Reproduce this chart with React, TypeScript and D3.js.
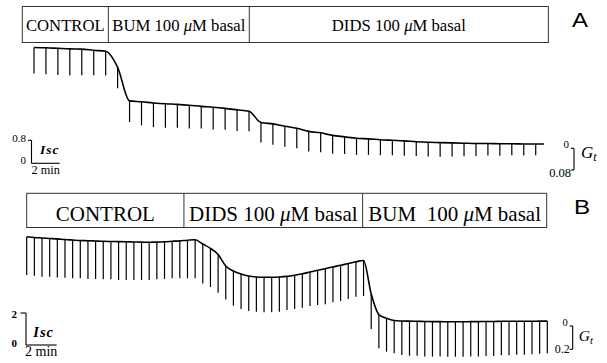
import React, { useEffect, useRef } from 'react'
import * as d3 from 'd3'

// Panel A: one Gt pulse every 0.85 min; Isc at the top of each pulse, Gt = pulse deflection
const minPerPulseA = 0.85
const iscA = [
  4.03, 4.02, 4.0, 3.98, 3.97, 3.93, 3.9, 3.34, 2.17, 2.14, 2.1, 2.07, 2.05, 2.02, 1.98,
  1.95, 1.91, 1.86, 1.81, 1.42, 1.37, 1.29, 1.22, 1.11, 1.06, 0.97, 0.92, 0.87, 0.85,
  0.82, 0.8, 0.78, 0.75, 0.73, 0.72, 0.71, 0.7, 0.69, 0.69, 0.68, 0.68, 0.67, 0.67,
]
const gtA = [
  0.096, 0.098, 0.098, 0.098, 0.096, 0.092, 0.09, 0.077, 0.078, 0.087, 0.089, 0.088,
  0.086, 0.086, 0.082, 0.082, 0.079, 0.078, 0.074, 0.074, 0.077, 0.076, 0.074, 0.074,
  0.072, 0.068, 0.063, 0.061, 0.059, 0.057, 0.055, 0.055, 0.053, 0.052, 0.052, 0.05,
  0.048, 0.046, 0.044, 0.044, 0.042, 0.042, 0.041,
]
const phasesA = ['CONTROL', 'BUM 100 μM basal', 'DIDS 100 μM basal']
const phaseBoundsA = [-0.83, 5.29, 15.32, 36.6] // min
const traceEndA = 36.29 // min

// Panel B: one Gt pulse every 0.5 min
const minPerPulseB = 0.5
const iscB = [
  6.77, 6.72, 6.69, 6.66, 6.63, 6.59, 6.56, 6.53, 6.52, 6.5, 6.48, 6.47, 6.46, 6.45, 6.44,
  6.43, 6.42, 6.43, 6.45, 6.48, 6.51, 6.55, 6.58, 6.31, 6.04, 5.66, 4.94, 4.63, 4.44,
  4.31, 4.25, 4.23, 4.23, 4.25, 4.29, 4.36, 4.45, 4.56, 4.67, 4.77, 4.88, 4.98, 5.09,
  5.2, 5.28, 3.19, 1.91, 1.67, 1.53, 1.5, 1.49, 1.48, 1.47, 1.46, 1.46, 1.45, 1.45,
  1.45, 1.46, 1.46, 1.47, 1.47, 1.48, 1.48, 1.48, 1.48, 1.48, 1.49, 1.49,
]
const gtB = [
  0.329, 0.328, 0.332, 0.328, 0.332, 0.328, 0.329, 0.324, 0.329, 0.326, 0.326, 0.324,
  0.329, 0.328, 0.326, 0.324, 0.324, 0.318, 0.319, 0.318, 0.322, 0.327, 0.331, 0.339,
  0.332, 0.328, 0.288, 0.298, 0.3, 0.3, 0.298, 0.3, 0.3, 0.298, 0.289, 0.289, 0.291,
  0.292, 0.298, 0.306, 0.303, 0.306, 0.305, 0.3, 0.305, 0.3, 0.29, 0.287, 0.282, 0.292,
  0.296, 0.296, 0.3, 0.3, 0.3, 0.3, 0.3, 0.3, 0.3, 0.3, 0.296, 0.296, 0.292, 0.292,
  0.288, 0.288, 0.283, 0.279, 0.275,
]
const phasesB = ['CONTROL', 'DIDS 100 μM basal', 'BUM\u00a0\u00a0100 μM basal']
const phaseBoundsB = [0, 10.27, 21.94, 33.96]

const W = 607
const H = 363
const serif = "'Liberation Serif', 'Times New Roman', serif"
const sans = "'Liberation Sans', Arial, sans-serif"

const App = () => {
  const ref = useRef<SVGSVGElement>(null)

  useEffect(() => {
    const svg = d3.select(ref.current)
    svg.selectAll('*').remove()

    const drawPanel = (o: any) => {
      const g = svg.append('g')
      const n = o.isc.length
      const x = d3.scaleLinear().domain([0, (n - 1) * o.minPerPulse]).range(o.xRange)
      const y = d3.scaleLinear().domain([0, o.iscCal]).range(o.iscRange)
      const gt = d3.scaleLinear().domain([0, o.gtCal]).range([0, o.gtPx])
      const pts: [number, number][] = o.isc.map((v: number, i: number) => [i * o.minPerPulse, v])
      if (o.traceEnd) pts.push([o.traceEnd, o.isc[n - 1]])

      // treatment boxes
      g.append('rect')
        .attr('x', x(o.bounds[0])).attr('y', o.box[0])
        .attr('width', x(o.bounds[o.bounds.length - 1]) - x(o.bounds[0]))
        .attr('height', o.box[1] - o.box[0])
        .attr('fill', 'none').attr('stroke', '#333').attr('stroke-width', 1)
      o.bounds.slice(1, -1).forEach((b: number) => {
        g.append('line')
          .attr('x1', x(b)).attr('x2', x(b)).attr('y1', o.box[0]).attr('y2', o.box[1])
          .attr('stroke', '#333').attr('stroke-width', 1)
      })
      o.phases.forEach((p: string, i: number) => {
        const [pre, post] = p.split('μ')
        const t = g.append('text')
          .attr('x', (x(o.bounds[i]) + x(o.bounds[i + 1])) / 2)
          .attr('y', o.boxBase)
          .attr('text-anchor', 'middle')
          .style('font-family', serif).style('font-size', `${o.boxFont}px`)
        t.append('tspan').text(pre)
        if (post !== undefined) {
          t.append('tspan').style('font-style', 'italic').text('μ')
          t.append('tspan').text(post)
        }
      })

      // trace + conductance pulses
      g.append('path')
        .datum(pts)
        .attr('d', d3.line().x((d) => x(d[0])).y((d) => y(d[1])).curve(d3.curveMonotoneX))
        .attr('fill', 'none').attr('stroke', '#000').attr('stroke-width', 1.6)
      g.selectAll('line.pulse')
        .data(o.isc)
        .enter()
        .append('line')
        .attr('class', 'pulse')
        .attr('x1', (_d: any, i: number) => x(i * o.minPerPulse))
        .attr('x2', (_d: any, i: number) => x(i * o.minPerPulse))
        .attr('y1', (d: any) => y(d))
        .attr('y2', (d: any, i: number) => y(d) + gt(o.gt[i]))
        .attr('stroke', '#000').attr('stroke-width', 1.2)

      const txt = (tx: number, ty: number, s: string, size: number, extra: any = {}) =>
        g.append('text').attr('x', tx).attr('y', ty).text(s)
          .attr('text-anchor', extra.anchor || 'start')
          .style('font-family', extra.family || serif).style('font-size', `${size}px`)
          .style('font-weight', extra.weight || 'normal').style('font-style', extra.style || 'normal')
          .style('letter-spacing', extra.spacing || 'normal')

      // Isc / time calibration
      const c = o.iscBar
      const bar = g.append('g').attr('stroke', '#000').attr('stroke-width', 1.1)
      bar.append('line').attr('x1', c.x).attr('x2', c.x).attr('y1', y(o.iscCal)).attr('y2', y(0))
      bar.append('line').attr('x1', c.x - c.tick).attr('x2', c.x).attr('y1', y(o.iscCal)).attr('y2', y(o.iscCal))
      bar.append('line').attr('x1', c.x).attr('x2', c.x + x(2) - x(0)).attr('y1', y(0)).attr('y2', y(0))
      txt(c.calX, y(o.iscCal) + c.calDy, String(o.iscCal), c.numSize, { anchor: 'end', weight: c.numWeight })
      txt(c.calX, y(0) + c.zeroDy, '0', c.numSize, { anchor: 'end', weight: c.numWeight })
      txt(c.labelX, c.labelY, 'Isc', c.labelSize, { weight: 'bold', style: 'italic', spacing: '1px' })
      txt(c.minX, c.minY, '2 min', c.minSize)

      // Gt calibration
      const k = o.gtBar
      const gb = g.append('g').attr('stroke', '#000').attr('stroke-width', 1.1)
      gb.append('line').attr('x1', k.x).attr('x2', k.x).attr('y1', k.top).attr('y2', k.top + gt(o.gtCal))
      gb.append('line').attr('x1', k.x - 3).attr('x2', k.x).attr('y1', k.top).attr('y2', k.top)
      gb.append('line').attr('x1', k.x - 3).attr('x2', k.x).attr('y1', k.top + gt(o.gtCal)).attr('y2', k.top + gt(o.gtCal))
      txt(k.x - 5, k.top + k.zeroDy, '0', k.zeroSize, { anchor: 'end' })
      txt(k.x - 3, k.top + gt(o.gtCal) + k.calDy, o.gtCalLabel, k.numSize, { anchor: 'end' })
      const gtLabel = txt(k.x + k.gdx, k.gy, 'G', k.gSize, { style: 'italic' })
      gtLabel.append('tspan').attr('dy', 3).style('font-size', `${k.gSize * 0.7}px`).text('t')

      // panel letter
      g.append('text')
        .attr('transform', `translate(${o.tagPos[0]},${o.tagPos[1]}) scale(${o.tagStretch},1)`)
        .text(o.tag)
        .style('font-family', sans).style('font-size', `${o.tagSize}px`)
    }

    drawPanel({
      tag: 'A', isc: iscA, gt: gtA, minPerPulse: minPerPulseA, phases: phasesA,
      bounds: phaseBoundsA, traceEnd: traceEndA,
      xRange: [34, 535.7], iscCal: 0.8, iscRange: [163.3, 140.3], gtCal: 0.08, gtPx: 21.7,
      gtCalLabel: '0.08', box: [6.5, 42.5], boxFont: 16.7, boxBase: 31,
      tagPos: [572, 27], tagSize: 20, tagStretch: 1.2,
      iscBar: { x: 31.5, tick: 3.5, calX: 26, calDy: 1.5, zeroDy: 0.5, numSize: 11, numWeight: 'normal',
        labelX: 40, labelY: 153.5, labelSize: 13.5, minX: 31.5, minY: 173.5, minSize: 12.3 },
      gtBar: { x: 574, top: 148.3, zeroDy: 0, calDy: 7, numSize: 12.5, zeroSize: 11, gy: 157.5, gSize: 17, gdx: 7 },
    })
    drawPanel({
      tag: 'B', isc: iscB, gt: gtB, minPerPulse: minPerPulseB, phases: phasesB,
      bounds: phaseBoundsB, traceEnd: null,
      xRange: [26.7, 547.3], iscCal: 2, iscRange: [345, 313], gtCal: 0.2, gtPx: 23.3,
      gtCalLabel: '0.2', box: [193.3, 227.5], boxFont: 21, boxBase: 220.5,
      tagPos: [574, 213.5], tagSize: 21, tagStretch: 1.15,
      iscBar: { x: 26, tick: 5.5, calX: 17, calDy: 5, zeroDy: 2, numSize: 11, numWeight: 'bold',
        labelX: 33.3, labelY: 337, labelSize: 14.5, minX: 25, minY: 355.5, minSize: 14 },
      gtBar: { x: 572.7, top: 326, zeroDy: 0, calDy: 4, numSize: 12, zeroSize: 10.5, gy: 340.5, gSize: 15.5, gdx: 6 },
    })
  }, [])

  return (
    <svg
      ref={ref}
      width={W}
      height={H}
      style={{ position: 'absolute', left: 0, top: 0, background: '#fff' }}
    />
  )
}

export default App
